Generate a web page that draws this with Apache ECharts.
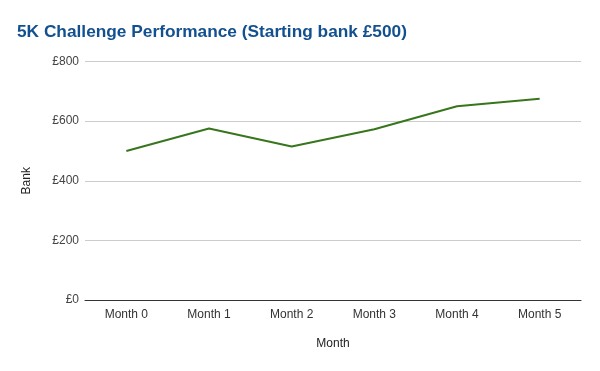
<!DOCTYPE html>
<html><head><meta charset="utf-8">
<script src="https://cdn.jsdelivr.net/npm/echarts@6/dist/echarts.min.js"></script>
<style>html,body{margin:0;padding:0;background:#fff}#c{width:600px;height:371px}</style>
</head><body><div id="c"></div>
<script>
var months = ['Month 0','Month 1','Month 2','Month 3','Month 4','Month 5'];
var bank = [500, 575, 515, 573, 650, 675];
var yTicks = [0, 200, 400, 600, 800];

var chart = echarts.init(document.getElementById('c'), null, {renderer:'canvas'});
chart.setOption({
  animation:false,
  backgroundColor:'#ffffff',
  title:{text:'5K Challenge Performance (Starting bank £500)', left:17, top:24, padding:0,
    textStyle:{fontFamily:'Liberation Sans, Arial', fontSize:17.3, fontWeight:'bold', color:'#13508f'}},
  grid:{left:85, right:19, top:61.5, bottom:71, containLabel:false},
  xAxis:{type:'category', data:months, boundaryGap:true,
    name:'Month', nameLocation:'middle', nameGap:38,
    nameTextStyle:{fontFamily:'Liberation Sans, Arial', fontSize:12, color:'#222'},
    axisLine:{lineStyle:{color:'#333', width:1}}, axisTick:{show:false},
    axisLabel:{fontFamily:'Liberation Sans, Arial', fontSize:12, color:'#333', margin:9}},
  yAxis:{type:'value', min:yTicks[0], max:yTicks[yTicks.length-1], interval:200,
    name:'Bank', nameLocation:'middle', nameGap:52, nameRotate:90,
    nameTextStyle:{fontFamily:'Liberation Sans, Arial', fontSize:12, color:'#222'},
    axisLine:{show:false}, axisTick:{show:false},
    splitLine:{lineStyle:{color:'#cccccc', width:1}},
    axisLabel:{fontFamily:'Liberation Sans, Arial', fontSize:12, color:'#444', margin:6,
      formatter:function(v){return '£'+v;}}},
  series:[{type:'line', data:bank, showSymbol:false, symbol:'none',
    lineStyle:{color:'#38761d', width:2}, itemStyle:{color:'#38761d'}}]
});
</script></body></html>
